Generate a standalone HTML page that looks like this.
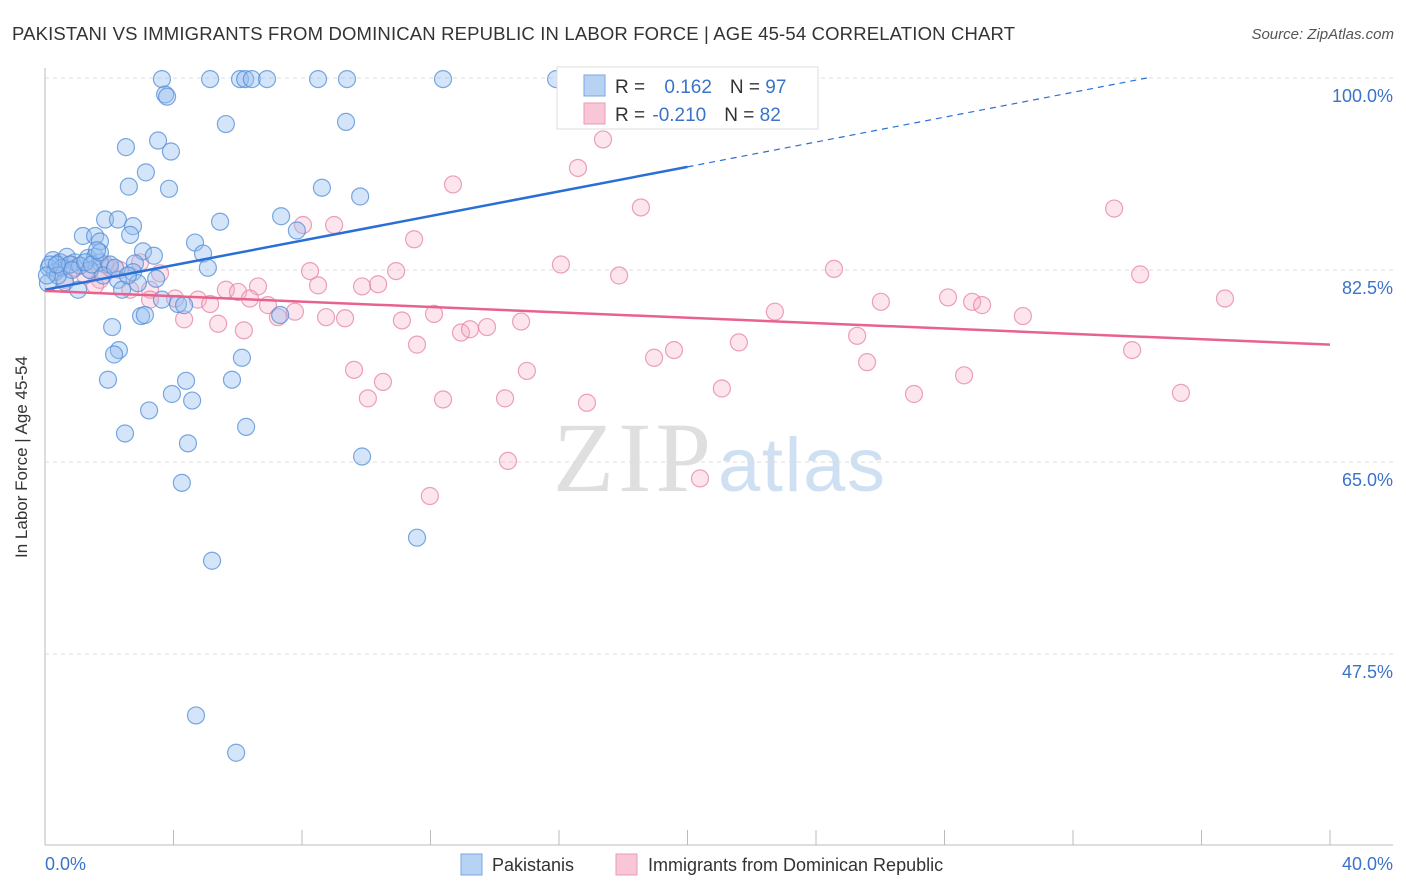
<!DOCTYPE html>
<html><head><meta charset="utf-8"><style>
body{margin:0;background:#fff;font-family:"Liberation Sans",sans-serif;}
svg{display:block}
</style></head><body>
<svg id="chart" width="1406" height="892">
<text x="12" y="40" font-size="18.5" fill="#333" textLength="1003">PAKISTANI VS IMMIGRANTS FROM DOMINICAN REPUBLIC IN LABOR FORCE | AGE 45-54 CORRELATION CHART</text>
<text x="1394" y="39" font-size="15" fill="#555" text-anchor="end" font-style="italic">Source: ZipAtlas.com</text>
<g><text x="553" y="491" font-size="100" font-family="Liberation Serif,serif" fill="#d8d8d8" opacity="0.8" textLength="158">ZIP</text><text x="718" y="491" font-size="76" fill="#bcd3ee" opacity="0.7" textLength="167">atlas</text></g>
<g id="grid"></g><g id="axes"></g><g id="pts"></g><g id="trend"></g>
<text x="27" y="457" font-size="17" fill="#333" text-anchor="middle" transform="rotate(-90 27 457)">In Labor Force | Age 45-54</text>
<text x="45" y="870" font-size="18" fill="#3b73c9">0.0%</text>
<text x="1393" y="870" font-size="18" fill="#3b73c9" text-anchor="end">40.0%</text>
<g>
<rect x="461" y="854" width="21" height="21" fill="#b8d2f4" stroke="#7aa7e2"/>
<text x="492" y="871" font-size="18" fill="#333">Pakistanis</text>
<rect x="616" y="854" width="21" height="21" fill="#f8c6d6" stroke="#ea9ab6"/>
<text x="648" y="871" font-size="18" fill="#333">Immigrants from Dominican Republic</text>
</g>
<g>
<rect x="557" y="67" width="261" height="62" fill="#fff" stroke="#ddd"/>
<rect x="584" y="75" width="21" height="21" fill="#b8d2f4" stroke="#7aa7e2"/>
<rect x="584" y="103" width="21" height="21" fill="#f8c6d6" stroke="#ea9ab6"/>
<text x="615" y="93" font-size="19" fill="#333">R = <tspan fill="#3b73c9" dx="14">0.162</tspan><tspan dx="18">N = </tspan><tspan fill="#3b73c9">97</tspan></text>
<text x="615" y="121" font-size="19" fill="#333">R = <tspan fill="#3b73c9" dx="2">-0.210</tspan><tspan dx="18">N = </tspan><tspan fill="#3b73c9">82</tspan></text>
</g>
</svg>
<script>
const yTicks=[100,82.5,65,47.5];
const yTickLabels=["100.0%","82.5%","65.0%","47.5%"];
const xTicks=[0,4,8,12,16,20,24,28,32,36,40];
const pakX=[3.64,5.14,6.07,6.23,6.44,6.91,8.5,9.4,12.39,15.91,3.74,3.8,5.63,9.37,3.52,2.52,3.92,3.14,2.61,3.86,8.62,9.81,5.45,7.35,1.87,2.27,2.74,7.84,2.65,1.18,1.56,1.71,4.67,3.05,4.92,3.39,5.07,0.25,0.47,0.68,0.93,1.34,1.56,1.71,2.02,2.8,0.12,0.31,0.53,0.78,1.09,1.4,1.81,2.27,2.74,3.46,0.09,0.62,1.03,2.4,2.89,3.64,4.14,4.33,7.32,2.99,3.11,2.09,2.3,2.15,6.13,1.96,4.39,5.82,3.95,4.58,3.24,2.49,4.45,6.26,9.87,4.26,11.58,5.2,4.7,5.95,0.16,0.4,0.84,1.25,1.46,2.18,2.58,0.06,0.37,1.71,1.62];
const pakY=[99.9,99.9,99.9,99.9,99.9,99.9,99.9,99.9,99.9,99.9,98.5,98.3,95.8,96.0,94.3,93.7,93.3,91.4,90.1,89.9,90.0,89.2,86.9,87.4,87.1,87.1,86.5,86.1,85.7,85.6,85.6,85.1,85.0,84.2,84.0,83.8,82.7,83.4,83.2,83.7,83.2,83.6,83.7,83.2,83.0,83.1,82.7,82.3,82.7,83.0,82.9,82.5,82.0,81.6,82.3,81.7,81.3,81.4,80.7,80.7,81.3,79.8,79.4,79.3,78.4,78.3,78.4,77.3,75.2,74.8,74.5,72.5,72.4,72.5,71.2,70.6,69.7,67.6,66.7,68.2,65.5,63.1,58.1,56.0,41.9,38.5,83.0,82.0,82.5,83.2,83.0,82.7,82.0,82.0,83.0,84.1,84.3];
const domX=[17.37,16.59,12.7,18.55,33.28,8.03,9.0,11.49,16.06,8.25,24.56,34.09,10.93,17.87,8.5,9.87,10.37,6.63,5.63,6.01,3.27,4.05,4.76,5.14,6.38,6.94,7.25,7.78,8.75,9.34,11.11,12.11,12.95,13.23,13.76,14.82,22.72,26.02,28.11,28.86,29.17,30.44,36.73,4.33,5.39,6.19,11.58,21.6,19.58,18.96,25.28,25.59,33.84,9.62,10.52,15.0,10.05,12.39,14.32,16.87,21.07,27.05,28.61,35.36,14.41,11.98,20.39,0.47,0.93,1.4,1.87,2.33,2.96,3.58,0.62,1.25,1.71,2.65,3.27,2.02,1.56,0.78];
const domY=[94.4,91.8,90.3,88.2,88.1,86.6,86.6,85.3,83.0,82.4,82.6,82.1,82.4,82.0,81.1,81.0,81.2,81.0,80.7,80.5,80.7,79.9,79.8,79.4,79.9,79.3,78.2,78.7,78.2,78.1,77.9,78.5,76.8,77.1,77.3,77.8,78.7,79.6,80.0,79.6,79.3,78.3,79.9,78.0,77.6,77.0,75.7,75.9,75.2,74.5,76.5,74.1,75.2,73.4,72.3,73.3,70.8,70.7,70.8,70.4,71.7,71.2,72.9,71.3,65.1,61.9,63.5,83.2,82.7,82.5,83.0,82.5,83.2,82.2,81.6,82.0,81.6,80.7,79.8,82.7,81.1,83.0];
const pakTrend=[[0,80.7],[20,91.9]];
const pakTrendExt=[[20,91.9],[34.3,100]];
const domTrend=[[0,80.6],[40,75.7]];
const NS="http://www.w3.org/2000/svg";
const X=v=>45+v*32.125, Y=v=>78+(100-v)/17.5*192;
function mk(p,tag,a){const e=document.createElementNS(NS,tag);for(const k in a)e.setAttribute(k,a[k]);p.appendChild(e);return e;}
const grid=document.getElementById('grid'),axes=document.getElementById('axes'),pts=document.getElementById('pts'),tr=document.getElementById('trend');
yTicks.forEach((t,i)=>{
 const l=mk(grid,'line',{x1:45,x2:1393,y1:Y(t),y2:Y(t),stroke:'#ddd','stroke-dasharray':'4,4'});
 
 
 const tx=mk(grid,'text',{x:1393,y:Y(t)+24,'font-size':18,fill:'#3b73c9','text-anchor':'end'});
 tx.textContent=yTickLabels[i];
 
 
});
mk(axes,'line',{x1:45,x2:45,y1:68,y2:845,stroke:'#bbb'});
mk(axes,'line',{x1:45,x2:1393,y1:845,y2:845,stroke:'#bbb'});
xTicks.forEach(t=>{const l=mk(axes,'line',{x1:X(t),x2:X(t),y1:830,y2:845,stroke:'#bbb'});
 
 });
domX.forEach((v,i)=>{const c=mk(pts,'circle',{cx:X(v),cy:Y(domY[i]),r:8.5,fill:'rgba(245,170,195,0.3)',stroke:'rgba(230,130,165,0.75)','stroke-width':1.2});
 
 });
pakX.forEach((v,i)=>{const c=mk(pts,'circle',{cx:X(v),cy:Y(pakY[i]),r:8.5,fill:'rgba(150,190,240,0.4)',stroke:'rgba(80,140,215,0.75)','stroke-width':1.2});
 
 });
let l=mk(tr,'line',{x1:X(pakTrend[0][0]),y1:Y(pakTrend[0][1]),x2:X(pakTrend[1][0]),y2:Y(pakTrend[1][1]),stroke:'#2a6fd6','stroke-width':2.5});


l=mk(tr,'line',{x1:X(pakTrendExt[0][0]),y1:Y(pakTrendExt[0][1]),x2:X(pakTrendExt[1][0]),y2:Y(pakTrendExt[1][1]),stroke:'#2a6fd6','stroke-width':1.2,'stroke-dasharray':'6,5'});


l=mk(tr,'line',{x1:X(domTrend[0][0]),y1:Y(domTrend[0][1]),x2:X(domTrend[1][0]),y2:Y(domTrend[1][1]),stroke:'#e8628e','stroke-width':2.5});


</script>
</body></html>
